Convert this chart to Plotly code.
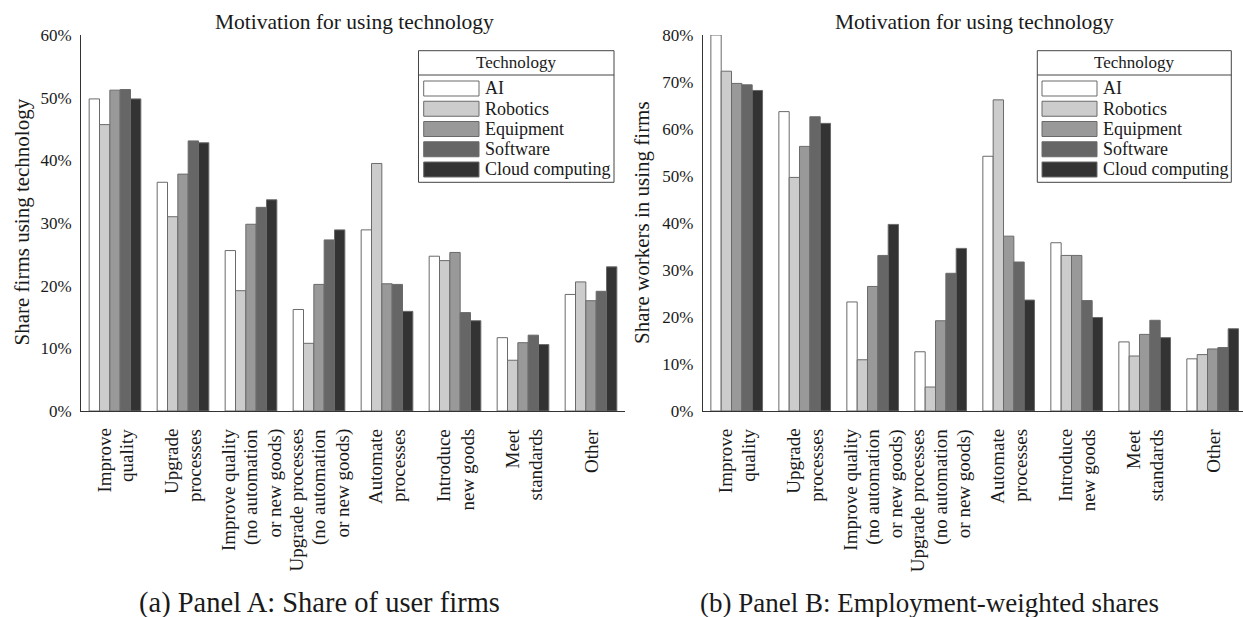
import plotly.graph_objects as go

W, H = 1243, 617

categories = [
    "Improve<br>quality",
    "Upgrade<br>processes",
    "Improve quality<br>(no automation<br>or new goods)",
    "Upgrade processes<br>(no automation<br>or new goods)",
    "Automate<br>processes",
    "Introduce<br>new goods",
    "Meet<br>standards",
    "Other",
]
series_names = ["AI", "Robotics", "Equipment", "Software", "Cloud computing"]
series_colors = ["#ffffff", "#cccccc", "#999999", "#666666", "#333333"]

# Panel A: share of user firms (%)
a_ai = [49.8, 36.5, 25.6, 16.2, 28.9, 24.7, 11.7, 18.6]
a_robotics = [45.7, 31.0, 19.2, 10.8, 39.5, 24.0, 8.1, 20.6]
a_equipment = [51.2, 37.8, 29.8, 20.2, 20.3, 25.3, 10.9, 17.6]
a_software = [51.3, 43.1, 32.5, 27.3, 20.2, 15.7, 12.1, 19.1]
a_cloud = [49.8, 42.8, 33.7, 28.9, 15.9, 14.4, 10.6, 23.0]

# Panel B: employment-weighted shares (%)
b_ai = [80.0, 63.7, 23.2, 12.6, 54.2, 35.8, 14.7, 11.1]
b_robotics = [72.3, 49.7, 10.9, 5.1, 66.2, 33.1, 11.7, 12.0]
b_equipment = [69.7, 56.3, 26.5, 19.2, 37.2, 33.1, 16.3, 13.2]
b_software = [69.4, 62.6, 33.1, 29.3, 31.7, 23.5, 19.3, 13.5]
b_cloud = [68.2, 61.2, 39.7, 34.6, 23.6, 19.9, 15.6, 17.5]

y_ticks_a = [0, 10, 20, 30, 40, 50, 60]
y_ticks_b = [0, 10, 20, 30, 40, 50, 60, 70, 80]

panel_a = [a_ai, a_robotics, a_equipment, a_software, a_cloud]
panel_b = [b_ai, b_robotics, b_equipment, b_software, b_cloud]

FONT = "Liberation Serif, Times New Roman, DejaVu Serif, serif"
TXT = "#1a1a1a"

fig = go.Figure()
for vals, name, col in zip(panel_a, series_names, series_colors):
    fig.add_trace(go.Bar(x=categories, y=vals, name=name, marker_color=col,
                         marker_line=dict(color="#6a6a6a", width=1),
                         xaxis="x", yaxis="y", showlegend=False, offsetgroup=name))
for vals, name, col in zip(panel_b, series_names, series_colors):
    fig.add_trace(go.Bar(x=categories, y=vals, name=name, marker_color=col,
                         marker_line=dict(color="#6a6a6a", width=1),
                         xaxis="x2", yaxis="y2", showlegend=False, offsetgroup=name))

def px_x(p):
    return p / W

def px_y(p):
    return (H - p) / H

y_dom = [px_y(411), px_y(35)]
xa_dom = [px_x(81), px_x(625)]
xb_dom = [px_x(702.7), 1.0]

xaxis_common = dict(type="category", showline=True, linecolor="#333333", linewidth=1,
                    ticks="", showticklabels=False, showgrid=False, zeroline=False,
                    automargin=False)
yaxis_common = dict(showline=True, linecolor="#333333", linewidth=1, ticks="",
                    showgrid=False, zeroline=False, automargin=False,
                    tickfont=dict(family=FONT, size=17, color=TXT), ticklabelstandoff=5)

fig.update_layout(
    width=W, height=H, margin=dict(l=0, r=0, t=0, b=0, pad=0),
    paper_bgcolor="white", plot_bgcolor="white",
    barmode="group", bargap=0.24, bargroupgap=0,
    font=dict(family=FONT, color=TXT),
    xaxis=dict(domain=xa_dom, range=[-0.5, 7.5], anchor="y", **xaxis_common),
    yaxis=dict(domain=y_dom, range=[0, 60], tickvals=y_ticks_a,
               ticktext=[f"{v}%" for v in y_ticks_a], anchor="x", **yaxis_common),
    xaxis2=dict(domain=xb_dom, range=[-0.5, 7.446], anchor="y2", **xaxis_common),
    yaxis2=dict(domain=y_dom, range=[0, 80], tickvals=y_ticks_b,
                ticktext=[f"{v}%" for v in y_ticks_b], anchor="x2", **yaxis_common),
)

ann = []
shapes = []

def add_text(x, y, text, size, angle=0, xanchor="center"):
    ann.append(dict(x=px_x(x), y=px_y(y), xref="paper", yref="paper", text=text,
                    showarrow=False, xanchor=xanchor, yanchor="middle", textangle=angle,
                    font=dict(family=FONT, size=size, color=TXT)))

# Category labels (rotated, one annotation per line, tops aligned below the axis)
LINE_PITCH = 23
for xref in ("x", "x2"):
    for ci, cat in enumerate(categories):
        lines = cat.split("<br>")
        n = len(lines)
        for li, line in enumerate(lines):
            ann.append(dict(x=ci, y=px_y(428), xref=xref, yref="paper", text=line,
                            showarrow=False, xanchor="center", yanchor="top", textangle=-90,
                            xshift=(li - (n - 1) / 2) * LINE_PITCH, borderpad=0,
                            font=dict(family=FONT, size=19, color=TXT)))

# Titles
add_text(354.5, 21.7, "Motivation for using technology", 21.5)
add_text(974.7, 21.7, "Motivation for using technology", 21.5)
# Y axis titles
add_text(22, 222.5, "Share firms using technology", 21, angle=-90)
add_text(642, 223, "Share workers in using firms", 21, angle=-90)
# Captions
add_text(319, 603, "(a) Panel A: Share of user firms", 28.5)
add_text(929, 603, "(b) Panel B: Employment-weighted shares", 27)

# Legends
def legend(x0, x1, sw0, sw1, tx):
    top, bot, sep = 50.7, 182.3, 75
    shapes.append(dict(type="rect", xref="paper", yref="paper", x0=px_x(x0), x1=px_x(x1),
                       y0=px_y(bot), y1=px_y(top), line=dict(color="#444444", width=1),
                       fillcolor="white", layer="above"))
    shapes.append(dict(type="line", xref="paper", yref="paper", x0=px_x(x0), x1=px_x(x1),
                       y0=px_y(sep), y1=px_y(sep), line=dict(color="#444444", width=1),
                       layer="above"))
    add_text((x0 + x1) / 2, 62.5, "Technology", 17)
    for i, (name, col) in enumerate(zip(series_names, series_colors)):
        ytop = 81 + i * 20.25
        shapes.append(dict(type="rect", xref="paper", yref="paper", x0=px_x(sw0), x1=px_x(sw1),
                           y0=px_y(ytop + 15), y1=px_y(ytop), fillcolor=col,
                           line=dict(color="#6a6a6a", width=1), layer="above"))
        add_text(tx, ytop + 7.3, name, 18, xanchor="left")

legend(418.5, 614, 423.7, 479, 482.5)
legend(1037.3, 1231.3, 1042, 1097, 1101)

fig.update_layout(annotations=ann, shapes=shapes)
fig.write_html("out.html", config={"displayModeBar": False},
               post_script="document.body.style.margin='0';document.body.style.overflow='hidden';")
